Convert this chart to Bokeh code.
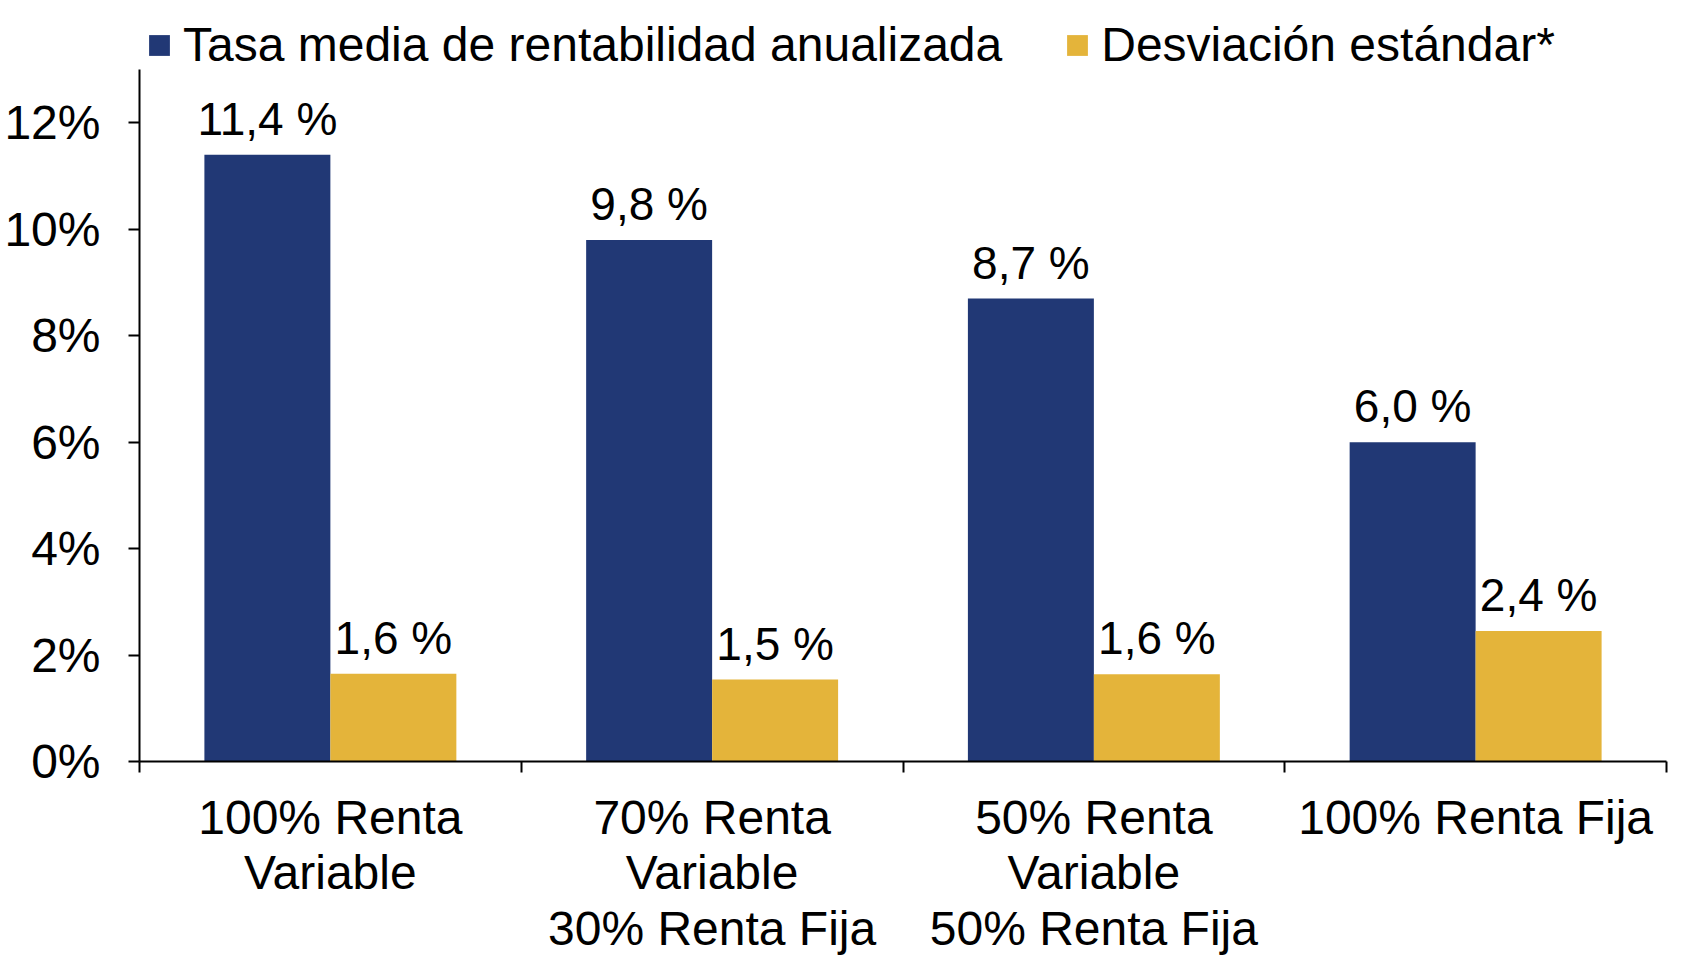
from bokeh.plotting import figure
from bokeh.models import Range1d, FixedTicker, Legend, LegendItem, ColumnDataSource
from bokeh.core.properties import value
from bokeh.embed import file_html
from bokeh.resources import INLINE

categories = ["100% Renta\nVariable", "70% Renta\nVariable\n30% Renta Fija",
              "50% Renta\nVariable\n50% Renta Fija", "100% Renta Fija"]
rentabilidad = [11.4, 9.8, 8.7, 6.0]
desviacion = [1.65, 1.54, 1.64, 2.45]
rent_labels = ["11,4 %", "9,8 %", "8,7 %", "6,0 %"]
desv_labels = ["1,6 %", "1,5 %", "1,6 %", "2,4 %"]
y_ticks = [0, 2, 4, 6, 8, 10, 12]
y_tick_labels = ["0%", "2%", "4%", "6%", "8%", "10%", "12%"]
y_axis_max = 13
series_names = ["Tasa media de rentabilidad anualizada", "Desviación estándar*"]

BLUE = "#213875"
YELLOW = "#E4B43A"
FONT = "Liberation Sans"
BAR_W = 0.33

n = len(categories)
centers = [i + 0.5 for i in range(n)]

# the frame reaches the top of the canvas so the legend can sit above the axis end
p = figure(width=1670, height=957, output_backend="svg", toolbar_location=None,
           x_range=Range1d(0, n), y_range=Range1d(0, 14.3),
           min_border_left=139, min_border_right=4, min_border_top=0, min_border_bottom=190)
p.outline_line_color = None
p.xgrid.grid_line_color = None
p.ygrid.grid_line_color = None
p.background_fill_color = "white"
p.border_fill_color = "white"

src_a = ColumnDataSource(dict(x=[c - BAR_W / 2 for c in centers], top=rentabilidad, lab=rent_labels))
src_b = ColumnDataSource(dict(x=[c + BAR_W / 2 for c in centers], top=desviacion, lab=desv_labels))

ra = p.vbar(x="x", top="top", width=BAR_W, source=src_a, fill_color=BLUE, line_color=None)
rb = p.vbar(x="x", top="top", width=BAR_W, source=src_b, fill_color=YELLOW, line_color=None)

for src in (src_a, src_b):
    p.text(x="x", y="top", text="lab", source=src, text_font=value(FONT),
           text_font_size="46px", text_align="center", text_baseline="bottom",
           y_offset=-10, text_color="black")

# x axis: labels at category centres, ticks at boundaries
xa = p.xaxis[0]
xa.ticker = FixedTicker(ticks=centers, minor_ticks=list(range(n + 1)))
xa.major_label_overrides = {c: lab for c, lab in zip(centers, categories)}
xa.major_tick_out = 0
xa.major_tick_in = 0
xa.minor_tick_out = 11
xa.minor_tick_in = 0
xa.minor_tick_line_color = "black"
xa.minor_tick_line_width = 2
xa.axis_line_color = "black"
xa.axis_line_width = 2
xa.major_label_text_font = FONT
xa.major_label_text_font_size = "48px"
xa.major_label_text_color = "black"
xa.major_label_standoff = 18
xa.major_label_text_line_height = 1.05

ya = p.yaxis[0]
ya.bounds = (0, y_axis_max)
ya.ticker = FixedTicker(ticks=y_ticks)
ya.major_label_overrides = {t: lab for t, lab in zip(y_ticks, y_tick_labels)}
ya.major_tick_out = 11
ya.major_tick_in = 0
ya.minor_tick_line_color = None
ya.major_tick_line_color = "black"
ya.major_tick_line_width = 2
ya.axis_line_color = "black"
ya.axis_line_width = 2
ya.major_label_text_font = FONT
ya.major_label_text_font_size = "48px"
ya.major_label_text_color = "black"
ya.major_label_standoff = 28

legend = Legend(items=[LegendItem(label=series_names[0], renderers=[ra]),
                       LegendItem(label=series_names[1], renderers=[rb])],
                orientation="horizontal", location=(7, 689),
                label_text_font=FONT, label_text_font_size="48px", label_text_color="black",
                glyph_width=26, glyph_height=26, label_standoff=11, spacing=62,
                padding=0, margin=0, border_line_color=None, background_fill_alpha=0)
p.add_layout(legend)

open("out.html", "w").write(file_html(p, INLINE))
